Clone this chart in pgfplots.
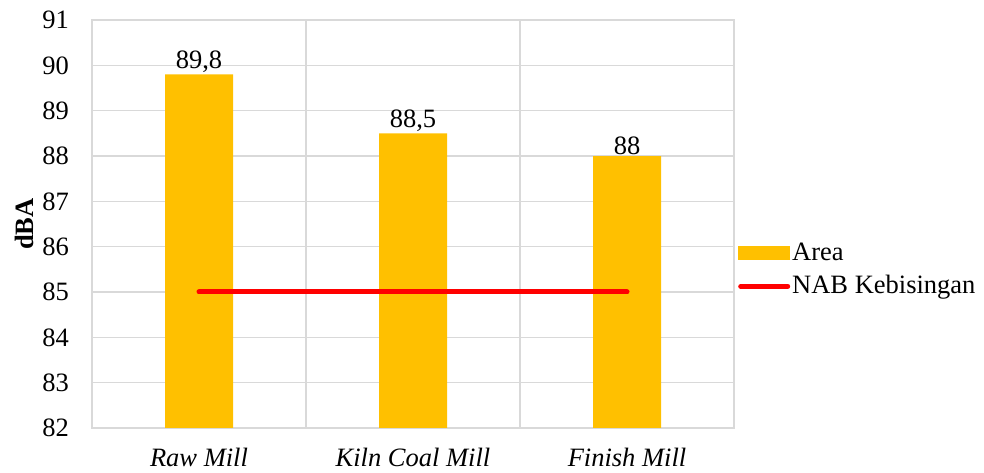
\documentclass[border=0pt]{standalone}
\usepackage{pgfplots}
\pgfplotsset{compat=1.18}
\usepackage{fontspec}
\setmainfont{Liberation Serif}
\definecolor{barorange}{HTML}{FFC000}
\definecolor{gridgray}{HTML}{D9D9D9}
\newcommand{\chartfont}{\fontsize{26.5}{31}\selectfont}
\begin{document}
\chartfont
\begin{tikzpicture}
\path[use as bounding box] (-92pt,-45pt) rectangle (892pt,428pt);
\begin{axis}[
  at={(0pt,0pt)}, anchor=south west,
  scale only axis,
  width=642pt, height=408pt,
  xmin=-0.5, xmax=2.5,
  ymin=82, ymax=91,
  ytick={82,...,91},
  xtick={0,1,2},
  xticklabels={\textit{Raw Mill},\textit{Kiln Coal Mill},\textit{Finish Mill}},
  yticklabel={\pgfmathprintnumber{\tick}\kern14pt},
  minor xtick={0.5,1.5},
  ymajorgrids, xminorgrids,
  grid style={gridgray, line width=1.3pt},
  minor grid style={gridgray, line width=1.3pt},
  axis line style={gridgray, line width=1.3pt},
  major tick length=0pt, minor tick length=0pt,
  tick label style={font=\chartfont, black},
  /pgf/number format/assume math mode=true,
  /pgf/number format/use comma,
  xticklabel shift=11pt,
  ylabel={\textbf{dBA}},
  ylabel style={font=\chartfont, at={(axis description cs:-0.106,0.5)}, anchor=center},
  legend style={
    at={(1,0.387)}, anchor=west, xshift=4pt,
    draw=none, fill=none, inner sep=0pt,
    font=\chartfont,
    row sep=7pt,
    /tikz/every even column/.append style={column sep=9pt},
  },
  legend cell align=left,
]
\addplot[ybar, bar width=68pt, bar shift=0pt, fill=barorange, draw=none,
  nodes near coords,
  nodes near coords style={font=\chartfont, black, inner sep=1.5pt},
  legend image code/.code={\fill[barorange] (0pt,-7pt) rectangle (52pt,7pt);}]
  coordinates {(0,89.8) (1,88.5) (2,88)};
\addlegendentry{Area}
\addplot[red, line width=5pt, line cap=round, mark=none,
  legend image code/.code={\draw[red, line width=5pt, line cap=round] (2.5pt,0pt) -- (49.5pt,0pt);}]
  coordinates {(0,85) (1,85) (2,85)};
\addlegendentry{NAB Kebisingan}
\end{axis}
\end{tikzpicture}
\end{document}
